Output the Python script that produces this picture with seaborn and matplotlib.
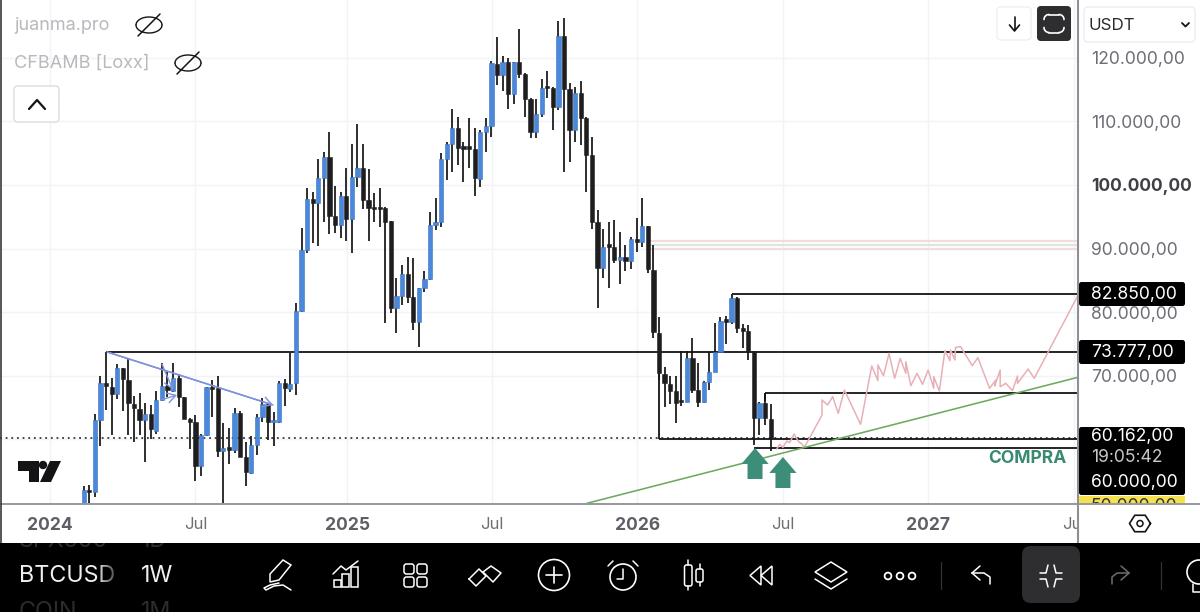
import numpy as np
import pandas as pd
import matplotlib
matplotlib.use("Agg")
import matplotlib.pyplot as plt
import seaborn as sns
from matplotlib.patches import Circle, FancyBboxPatch, Polygon, Rectangle

# Weekly BTCUSD candles, oldest first
opens = [48900, 52095, 51675, 63046, 68810, 68286, 67133, 71168, 69334, 65561, 64775, 63046, 63937, 61369, 66190, 68443,
         67657, 69596, 66609, 63151, 62784, 55815, 60688, 68181, 68024, 58173, 58592, 58330, 64199, 57177, 54767, 59116,
         63465, 65561, 62732, 62784, 68915, 67919, 68810, 80233, 89770, 97787, 97211, 101141, 104442, 95167, 93700, 98311,
         94591, 101298, 102608, 97630, 96372, 96268, 96320, 94329, 80705, 82539, 85997, 82329, 78399, 83744, 85159, 93700,
         94224, 104075, 106433, 108991, 105857, 105857, 105595, 100931, 108320, 109210, 119009, 117280, 119376, 114241, 119271,
         117385, 113507, 108267, 111097, 115341, 115289, 112197, 123411, 115027, 108634, 114503, 110573, 104704, 94224, 86888,
         90451, 90294, 88198, 88617, 88041, 91499, 91080, 93595, 86626, 76775, 70225, 68705, 67605, 66033, 65928, 72740, 67762,
         65823, 68967, 70644, 73788, 78714, 78504, 82172, 77456, 76984, 73840, 63308, 65666, 63203]
highs = [52723, 52828, 63989, 69963, 73736, 69596, 71849, 71168, 72740, 66819, 67238, 65666, 65404, 67657, 71954, 70644,
         71954, 70225, 66609, 63308, 63832, 60845, 68286, 69334, 69963, 62627, 61736, 64880, 64513, 59640, 60531, 63989,
         66452, 65666, 64356, 69229, 69439, 73631, 81386, 93176, 99464, 98835, 104075, 105228, 108267, 99883, 98940, 102713,
         106381, 109577, 106381, 102503, 98783, 99464, 96582, 94329, 85316, 87412, 88617, 88460, 83744, 86469, 95796, 97892,
         104966, 106800, 111935, 110730, 106800, 110573, 108896, 108634, 110573, 119533, 123201, 120267, 119900, 119376, 124459,
         117542, 113717, 113455, 116599, 117909, 115341, 125769, 126188, 115970, 115446, 116389, 110730, 107481, 96058, 93071,
         94119, 94486, 92652, 90556, 91866, 94748, 97892, 93595, 90556, 79290, 71325, 70015, 69963, 73945, 73945, 75989, 71954,
         69229, 73683, 78242, 79290, 79395, 82850, 82329, 78137, 77980, 73945, 65928, 67238, 65508]
lows = [48300, 49900, 50994, 58959, 64618, 60688, 66347, 64461, 60688, 59640, 60688, 56496, 60059, 60845, 66085, 66714,
        67500, 65037, 63151, 58435, 53509, 54243, 60583, 63465, 57177, 49500, 56077, 57806, 57177, 52671, 54557, 57544,
        62679, 59902, 58959, 62522, 65299, 67500, 66976, 80000, 89351, 90818, 90451, 94224, 92285, 92495, 91604, 91237,
        89246, 99621, 96163, 91237, 94119, 93333, 78242, 79919, 76670, 81124, 81491, 77194, 74574, 83115, 85054, 92914,
        93333, 100774, 101979, 103132, 100407, 102713, 98259, 99621, 105123, 107481, 115760, 114817, 111935, 112669, 116861,
        110730, 107429, 107324, 110625, 113612, 108634, 111778, 101979, 103551, 106695, 106276, 98940, 93019, 80600, 85316,
        83849, 87674, 84425, 86469, 86783, 89403, 90189, 86102, 75884, 69334, 65142, 65561, 62522, 65299, 65823, 67343, 65037,
        65771, 67762, 70539, 73683, 74993, 78137, 76775, 74312, 72478, 59116, 60688, 62260, 58173]
closes = [52042, 51727, 63046, 68810, 68443, 67133, 71168, 69439, 65666, 64880, 63046, 63937, 61579, 66190, 68443, 67762,
          69596, 66609, 63151, 62784, 55815, 60688, 68181, 67867, 58225, 58592, 58382, 64199, 57282, 54819, 59116, 63465,
          65561, 62784, 62889, 68915, 68024, 68705, 80233, 89770, 97787, 97211, 101141, 104442, 95167, 93700, 98311, 94591,
          101298, 102608, 97630, 96425, 96163, 96163, 94224, 80705, 82539, 85997, 82329, 78504, 83744, 85159, 93700, 94224,
          104075, 106433, 108991, 105752, 105700, 105700, 101036, 108372, 109210, 119114, 117280, 119376, 114241, 119271,
          117385, 113507, 108267, 111097, 115289, 115184, 112197, 123411, 115027, 108634, 114503, 110573, 104704, 94224, 86888,
          90189, 90294, 88198, 88617, 88041, 91499, 91080, 93595, 86731, 76932, 70382, 68810, 67657, 65666, 65823, 72740, 67762,
          65928, 68967, 70644, 73683, 78609, 78504, 82172, 77456, 77089, 73840, 63308, 65666, 63308, 60162]

# Faded projection of the earlier structure, drawn ahead of the last candle
ghost_week = [124.1, 124.6, 125.2, 125.9, 126.4, 127.2, 128.0, 128.6, 129.0, 129.9, 132.2, 132.2, 133.2, 134.1, 135.1, 136.2,
              139.1, 141.1, 142.2, 142.2, 143.2, 144.2, 145.2, 146.2, 147.2, 147.2, 148.1, 149.2, 150.2, 151.2, 152.2, 152.2,
              153.2, 154.2, 155.1, 155.2, 156.0, 156.1, 157.0, 159.1, 160.1, 162.2, 163.3, 163.1, 164.1, 164.1, 165.1, 166.3,
              167.2, 167.2, 169.1, 170.2, 177.9]
ghost_price = [58487, 59221, 58749, 59745, 59483, 60845, 59640, 59273, 58749, 60112, 63832, 66190, 65404, 66714, 64094, 67762,
               62365, 71535, 69229, 71692, 70015, 73526, 69596, 72740, 70382, 72216, 68443, 70382, 68653, 70906, 68024, 69858,
               67605, 73945, 72373, 74050, 72478, 74469, 74574, 71587, 72845, 68024, 69334, 68391, 70906, 68286, 68810, 67657,
               69963, 68810, 71063, 69596, 82434]

# Horizontal levels: price, first week
level_prices = [82850, 73777, 67338, 60000, 58690]
level_starts = [116, 4, 122, 103, 120]
current_price = 60162
zone_prices = [91185, 90556, 89875]
zone_colors = ["#f4dcdc", "#dbe6dc", "#f4dcdc"]
zone_start = 101

# Trend lines as (week, price) pairs
support_week, support_price = [90.1, 178.1], [49950, 69780]
fall_week, fall_price = [4.2, 33.9], [73735, 65404]
minor_a_week, minor_a_price = [14.0, 16.0], [71849, 67762]
minor_b_week, minor_b_price = [13.8, 16.7], [66190, 66976]

# Buy arrows: week, tip price, tail price
arrow_weeks = [120.2, 125.2]
arrow_tips = [58645, 57229]
arrow_tails = [53772, 52356]

tick_weeks = [-6.03, 20.0, 47.2, 73.1, 99.1, 125.2, 151.2, 177.3]
tick_names = ["2024", "Jul", "2025", "Jul", "2026", "Jul", "2027", "Jul"]
price_ticks = [120000, 110000, 100000, 90000, 80000, 70000]
price_names = ["120.000,00", "110.000,00", "100.000,00", "90.000,00", "80.000,00", "70.000,00"]
grid_prices = price_ticks + [60000]

W, H = 1200, 612
BLUE = "#4a88dc"
DARK = "#1e1e20"
INK = "#141416"
GREY_TXT = "#6d6e75"

sns.set_theme(style="white")
plt.rcParams["font.family"] = ["Inter", "DejaVu Sans"]
plt.rcParams["axes.unicode_minus"] = False

fig = plt.figure(figsize=(W / 100, H / 100), dpi=100, facecolor="white")
ax = fig.add_axes([0, (H - 503) / H, 1078 / W, 503 / H], zorder=1)
ax.set_xlim(-14.99, 178.03)
ax.set_ylim(49998, 129070)
for s in ax.spines.values():
    s.set_visible(False)

ax.set_yticks(grid_prices)
ax.set_yticklabels([])
ax.set_xticks(tick_weeks)
ax.set_xticklabels(tick_names)
ax.tick_params(axis="both", length=0)
ax.tick_params(axis="x", pad=10)
for label, name in zip(ax.get_xticklabels(), tick_names):
    year = name != "Jul"
    label.set_fontsize(12.6 if year else 12)
    label.set_fontweight("bold" if year else "normal")
    label.set_color("#5e5f66" if year else "#6f7076")
ax.grid(True, color="#f1f3f9", lw=1.0, zorder=0)
ax.set_axisbelow(True)

# Candles
candles = pd.DataFrame({"open": opens, "high": highs, "low": lows, "close": closes})
candles["week"] = np.arange(len(candles))
candles["rising"] = candles["close"] >= candles["open"]
ax.vlines(candles["week"], candles["low"], candles["high"], color=INK, lw=1.25, zorder=3)
for rising, colour, edge in [(True, BLUE, "#3a70bd"), (False, DARK, DARK)]:
    part = candles[candles["rising"] == rising]
    bottom = part[["open", "close"]].min(axis=1)
    height = (part["close"] - part["open"]).abs().clip(lower=350)
    ax.bar(part["week"], height, bottom=bottom, width=0.76, color=colour, edgecolor=edge, lw=0.4, zorder=4)

# Levels
for price, start in zip(level_prices, level_starts):
    ax.hlines(price, start, 178.03, color=INK, lw=1.3, zorder=2)
ax.vlines(103, 60000, 73777, color=INK, lw=1.3, zorder=2)
ax.vlines(122, 66000, 67338, color=INK, lw=1.3, zorder=2)
ax.hlines(current_price, -14.99, 178.03, color=INK, lw=1.1, linestyles=[(0, (1.2, 2.5))], zorder=2)
for price, colour in zip(zone_prices, zone_colors):
    ax.hlines(price, zone_start, 178.03, color=colour, lw=1.6, zorder=1.5)

# Trend lines and projection
line_kw = dict(ax=ax, estimator=None, sort=False, legend=False)
sns.lineplot(x=ghost_week, y=ghost_price, color="#e8b0b6", lw=1.1, zorder=5, **line_kw)
sns.lineplot(x=support_week, y=support_price, color="#6cab5e", lw=1.15, zorder=5, **line_kw)
sns.lineplot(x=fall_week, y=fall_price, color="#7f90dc", lw=1.1, zorder=5, **line_kw)
for wk, pr in [(fall_week, fall_price), (minor_a_week, minor_a_price), (minor_b_week, minor_b_price)]:
    ax.annotate("", xy=(wk[1], pr[1]), xytext=(wk[0], pr[0]), zorder=5,
                arrowprops=dict(arrowstyle="->,head_length=0.5,head_width=0.3", color="#7f90dc", lw=1.0,
                                shrinkA=0, shrinkB=0))
for wk, tip, tail in zip(arrow_weeks, arrow_tips, arrow_tails):
    ax.annotate("", xy=(wk, tip), xytext=(wk, tail), zorder=6,
                arrowprops=dict(facecolor="#3d8e78", edgecolor="none", width=10.8, headwidth=19.6,
                                headlength=11.5, shrink=0))
ax.text(175.9, 56970, "COMPRA", color="#3a8a72", fontsize=12.6, fontweight="bold",
        ha="right", va="center", zorder=6)

# Price scale panel
panel = fig.add_axes([1078 / W, (H - 543) / H, 122 / W, 543 / H], zorder=2, facecolor="white")
panel.set_xlim(0, 1)
panel.set_ylim(129070 - 543 * 157.2, 129070)
panel.set_xticks([])
panel.set_yticks(price_ticks)
panel.set_yticklabels(price_names)
panel.tick_params(axis="y", length=0, pad=-9.5)
for label, tick in zip(panel.get_yticklabels(), price_ticks):
    label.set_ha("left")
    label.set_fontsize(12.6)
    label.set_color("#3f4046" if tick == 100000 else GREY_TXT)
    if tick == 100000:
        label.set_fontweight("bold")
for s in panel.spines.values():
    s.set_visible(False)

# Application chrome, laid out in screen pixels
ui = fig.add_axes([0, 0, 1, 1], zorder=3, facecolor="none")
ui.set_xlim(0, W)
ui.set_ylim(H, 0)
ui.axis("off")


def stroke(xs, ys, colour="white", lw=1.1, z=8):
    ui.plot(xs, ys, color=colour, lw=lw, solid_capstyle="round", solid_joinstyle="round", zorder=z)


def box(x, y, w, h, face="none", edge="none", lw=1.0, r=4.0, z=7):
    patch = FancyBboxPatch((x + r, y + r), w - 2 * r, h - 2 * r, boxstyle=f"round,pad={r}",
                           fc=face, ec=edge, lw=lw, zorder=z)
    ui.add_patch(patch)
    return patch


ui.plot([1078, 1078], [0, 543], color="#8f9095", lw=1.5, zorder=6)
ui.plot([0, 1200], [503.5, 503.5], color="#8f9095", lw=1.3, zorder=6)
ui.plot([0.5, 0.5], [0, 543], color="#3a3a3c", lw=1.2, zorder=6)

# Legend rows
ui.text(14, 25, "juanma.pro", color="#b8b9bd", fontsize=13, va="center")
ui.text(14, 63, "CFBAMB [Loxx]", color="#b8b9bd", fontsize=13, va="center")
for ex, ey in [(149, 25), (188, 63)]:
    t = np.linspace(0, np.pi, 30)
    stroke(ex + 13 * np.cos(t), ey - 8 * np.sin(t), INK, 1.0)
    stroke(ex + 13 * np.cos(t), ey + 8 * np.sin(t), INK, 1.0)
    stroke([ex - 11, ex + 11], [ey + 11, ey - 11], INK, 1.1)
box(14, 86, 45, 36, face="white", edge="#dcdcdf", lw=1.0)
stroke([29, 37, 45], [109, 100, 109], INK, 1.6)

# Logo
ui.add_patch(Polygon([(18, 461), (39, 461), (39, 482), (29, 482), (29, 471), (18, 471)], fc=INK, ec="none", zorder=7))
ui.add_patch(Circle((43, 465), 4.2, fc=INK, ec="none", zorder=7))
ui.add_patch(Polygon([(50, 461), (61, 461), (51, 482), (40, 482)], fc=INK, ec="none", zorder=7))

# Top-right buttons
box(997, 7, 34, 33, face="white", edge="#ececee", lw=0.8)
stroke([1014.5, 1014.5], [17, 30], INK, 1.2)
stroke([1009.5, 1014.5, 1019.5], [25, 31, 25], INK, 1.2)
box(1037, 6, 34, 35, face="#2e2e30")
arc = np.linspace(0, np.pi / 2, 10)
for sx, sy in [(-1, -1), (1, -1), (-1, 1), (1, 1)]:
    stroke(1054 + sx * (5 + 5 * np.cos(arc)), 23.5 + sy * (4 + 5 * np.sin(arc)), "white", 1.2)
for yy in (14.5, 32.5):
    stroke([1049, 1059], [yy, yy], "white", 1.2)
box(1084, 7, 111, 35, face="white", edge="#ebebed", lw=0.9)
ui.text(1089, 25, "USDT", color="#2a2a2e", fontsize=12.2, va="center", zorder=8)
stroke([1182, 1185.5, 1189], [23, 26.5, 23], INK, 1.3)

# Price badges
for top, bottom, text_rows in [(282, 306, [("82.850,00", 294, "white")]),
                               (340, 364, [("73.777,00", 352, "white")]),
                               (427, 495, [("60.162,00", 437, "white"), ("19:05:42", 458, "#c8c8ca"),
                                           ("60.000,00", 482, "white")])]:
    box(1079, top, 106, bottom - top, face="black", r=2.5)
    for txt, y, colour in text_rows:
        ui.text(1091, y, txt, color=colour, fontsize=12.6, va="center", zorder=8)
yellow = Rectangle((1079, 496), 106, 7, fc="#f6e24f", ec="none", zorder=7)
ui.add_patch(yellow)
label_50k = ui.text(1091, 506, "50.000,00", color="#333333", fontsize=12.6, va="center", zorder=8, clip_on=True)
label_50k.set_clip_path(yellow)

# Settings hexagon
hx, hy = 1140, 523.5
ang = np.deg2rad(np.arange(0, 361, 60))
stroke(hx + 10.5 * np.cos(ang), hy + 9.5 * np.sin(ang), INK, 1.2)
ui.add_patch(Circle((hx, hy), 3.0, fc="none", ec=INK, lw=1.1, zorder=8))

# Bottom toolbar
bar = Rectangle((0, 543), W, 69, fc="black", ec="none", zorder=6)
ui.add_patch(bar)
ui.text(19, 576, "BTCUSD", color="#f0f0f0", fontsize=16.8, va="center", zorder=7)
ui.text(141, 576, "1W", color="#f0f0f0", fontsize=16.8, va="center", zorder=7)
for frac in np.linspace(0, 1, 16):
    ui.add_patch(Rectangle((96 + frac * 20, 560), 1.4, 32, fc="black", ec="none", alpha=frac * 0.75, zorder=7.5))
for row_y, symbol, period in [(541, "SPX500", "1D"), (612, "COIN", "1M")]:
    for x0, txt in [(19, symbol), (141, period)]:
        faded = ui.text(x0, row_y, txt, color="#2c2c2e", fontsize=16.8, va="center", zorder=7, clip_on=True)
        faded.set_clip_path(bar)

# Pen
ui.add_patch(Polygon([(270, 574), (283, 560), (291, 565), (279, 580), (270, 582)], fc="none", ec="white", lw=1.1, zorder=8))
stroke([279, 270, 264, 266, 274, 283, 291], [583, 585, 588, 590, 586, 585, 590])
# Chart with bars
for bx, by, bw, bh in [(334, 580, 7, 7), (342, 574, 7, 13), (351, 567, 7, 20)]:
    ui.add_patch(Rectangle((bx, by), bw, bh, fc="none", ec="white", lw=1.1, zorder=8))
stroke([333, 341, 346, 358], [574, 566, 570, 561])
# Widgets
for gx, gy in [(404, 564), (417, 564), (404, 577), (417, 577)]:
    box(gx, gy, 10, 10, edge="white", lw=1.1, r=2.5, z=8)
# Double chevron
stroke([469, 479, 486, 476, 469], [579, 569, 576, 586, 579])
stroke([483, 493, 501, 491, 483], [572, 582, 573, 566, 572])
# Add
ui.add_patch(Circle((554, 575), 15.5, fc="none", ec="white", lw=1.2, zorder=8))
stroke([546, 562], [575, 575], lw=1.2)
stroke([554, 554], [567, 583], lw=1.2)
# Alarm
ui.add_patch(Circle((623, 577), 13, fc="none", ec="white", lw=1.2, zorder=8))
stroke([623, 623, 617], [569, 579, 579])
stroke([608, 613], [566, 561])
stroke([638, 633], [566, 561])
# Candle type
box(684.5, 565, 7.5, 21, edge="white", lw=1.1, r=2, z=8)
box(696, 569, 7, 13, edge="white", lw=1.1, r=2, z=8)
stroke([688, 688], [560, 565])
stroke([688, 688], [586, 590])
stroke([699.5, 699.5], [564, 569])
stroke([699.5, 699.5], [582, 586])
# Replay
ui.add_patch(Polygon([(761, 566), (750, 575.5), (761, 585)], fc="none", ec="white", lw=1.1, zorder=8))
ui.add_patch(Polygon([(772, 566), (761, 575.5), (772, 585)], fc="none", ec="white", lw=1.1, zorder=8))
# Layers
ui.add_patch(Polygon([(831, 562), (847, 572), (831, 582), (815, 572)], fc="none", ec="white", lw=1.1, zorder=8))
stroke([815, 831, 847], [579, 589, 579])
# More
for dx in (888, 900, 912):
    ui.add_patch(Circle((dx, 576), 3.4, fc="none", ec="white", lw=1.3, zorder=8))
for sx in (941, 1161):
    stroke([sx, sx], [562, 589], "#333336", 0.9)
# Undo
stroke([972, 980], [573, 566])
stroke([972, 980], [573, 580])
stroke([972, 984, 990, 990], [573, 573, 577, 584])
# Exit full screen
box(1022, 546, 58, 57, face="#2e2e30", r=9, z=7)
for sgn_x, sgn_y in [(-1, -1), (1, -1), (-1, 1), (1, 1)]:
    stroke([1051 + sgn_x * 11, 1051 + sgn_x * 5, 1051 + sgn_x * 3],
           [576 + sgn_y * 3, 576 + sgn_y * 3, 576 + sgn_y * 11])
# Redo
stroke([1129, 1121], [573, 566], "#6e6e72")
stroke([1129, 1121], [573, 580], "#6e6e72")
stroke([1129, 1117, 1112, 1112], [573, 573, 577, 584], "#6e6e72")
# Idea bulb
ui.add_patch(Circle((1199, 572), 12, fc="none", ec="white", lw=1.2, zorder=8))
stroke([1193, 1193, 1200], [584, 592, 592])

fig.savefig("out.png", dpi=100, facecolor="white")
